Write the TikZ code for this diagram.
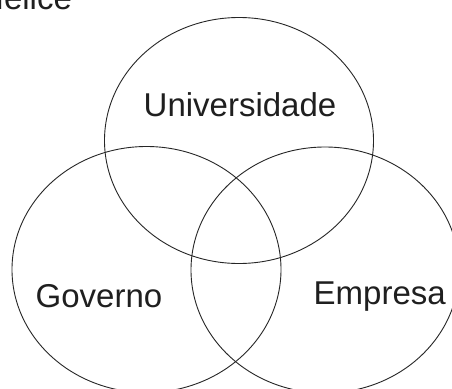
\documentclass[tikz,border=0pt]{standalone}
\usepackage{fontspec}
\setmainfont{Liberation Sans}
\begin{document}
\begin{tikzpicture}[x=1pt,y=-1pt,
  sector/.style={draw=black!85, line width=0.9pt},
  lbl/.style={anchor=base west, inner sep=0pt, text=black!88, font=\fontsize{33}{38}\selectfont}]
\useasboundingbox (0,0) rectangle (452,388);
\clip (0,0) rectangle (452,388);
\fill[white] (0,0) rectangle (452,388);
\node[lbl] (title) at (-20,9.5) {Hélice};
\draw[sector] (239,140.5) ellipse [x radius=134.5, y radius=123];
\draw[sector] (146.5,269.5) ellipse [x radius=134.5, y radius=123];
\draw[sector] (325,270) ellipse [x radius=134, y radius=123];
\node[lbl] (univ) at (143.5,116) {Universidade};
\node[lbl] (gov) at (35.5,307) {Governo};
\node[lbl] (emp) at (313.5,304) {Empresa};
\end{tikzpicture}
\end{document}
